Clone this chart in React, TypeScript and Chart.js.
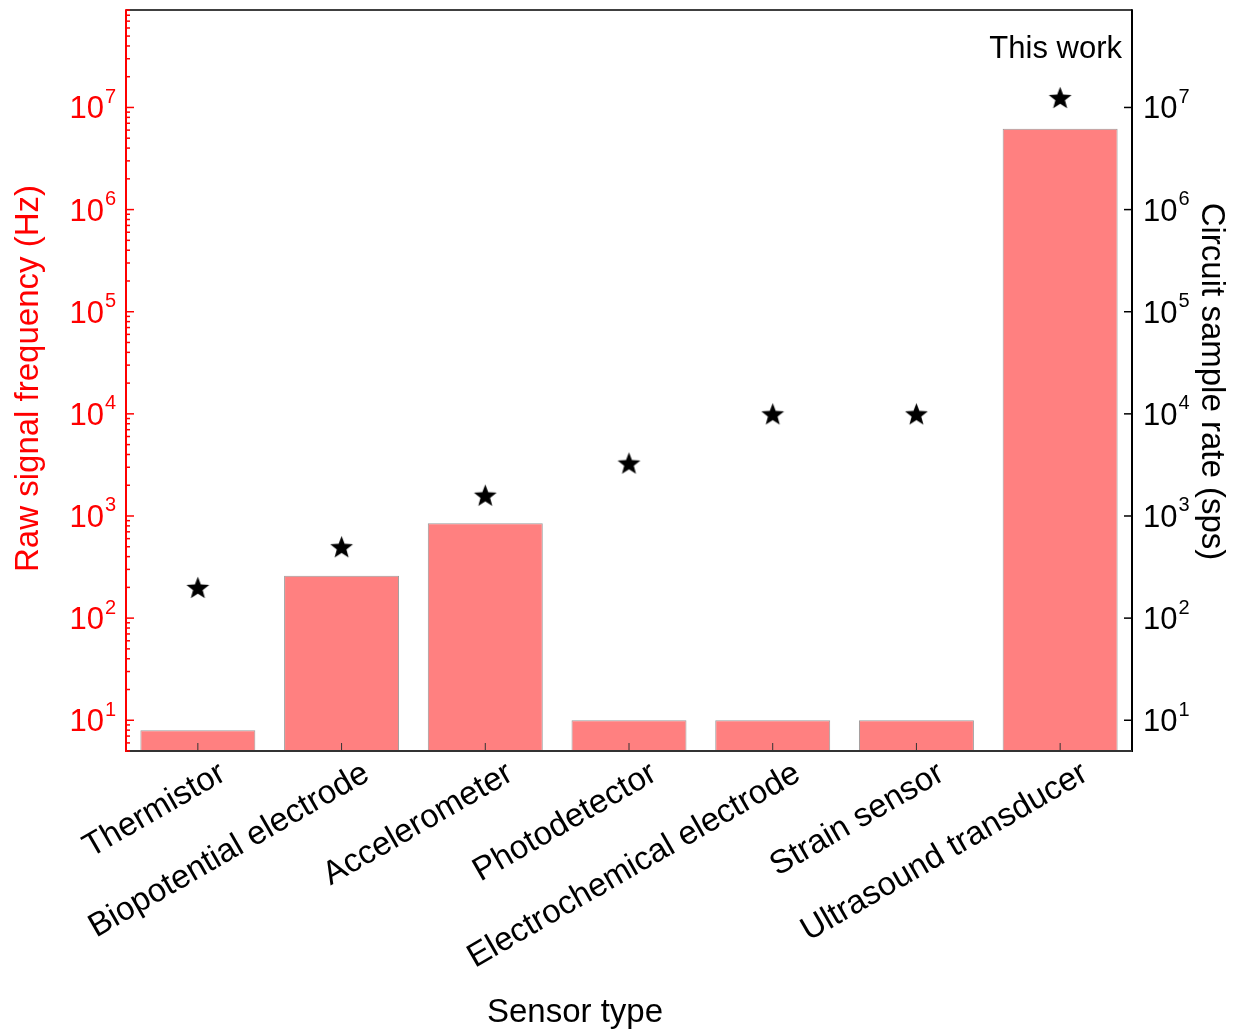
import React, { useEffect, useRef } from "react";
import { Chart, registerables } from "chart.js";

Chart.register(...registerables);

// ---- data ----
const categories = [
  "Thermistor",
  "Biopotential electrode",
  "Accelerometer",
  "Photodetector",
  "Electrochemical electrode",
  "Strain sensor",
  "Ultrasound transducer",
];
const rawSignalFrequency = [8, 260, 850, 10, 10, 10, 6.2e6];
const circuitSampleRate = [200, 500, 1600, 3300, 10000, 10000, 1.25e7];
const axisMin = 5;
const axisMax = 9e7;
const majorExponents = [1, 2, 3, 4, 5, 6, 7];
const xTitle = "Sensor type";
const leftTitle = "Raw signal frequency (Hz)";
const rightTitle = "Circuit sample rate (sps)";
const annotation = "This work";

const FONT = '"Liberation Sans", Arial, Helvetica, sans-serif';
const W = 1239;
const H = 1031;
const PLOT = { left: 126, right: 1132, top: 10, bottom: 751 };

function makeStar(size: number) {
  const c = document.createElement("canvas");
  c.width = size;
  c.height = size;
  const ctx = c.getContext("2d")!;
  const R = size / 2 - 0.5;
  const r = R * 0.42;
  const cx = size / 2;
  const cy = size / 2 + 0.0955 * R;
  ctx.beginPath();
  for (let i = 0; i < 10; i++) {
    const ang = -Math.PI / 2 + (i * Math.PI) / 5;
    const rad = i % 2 === 0 ? R : r;
    ctx.lineTo(cx + rad * Math.cos(ang), cy + rad * Math.sin(ang));
  }
  ctx.closePath();
  ctx.fillStyle = "#000";
  ctx.fill();
  return c;
}

const decorPlugin = {
  id: "decor",
  afterDraw(chart: any) {
    const { ctx, chartArea: a, scales } = chart;
    const y = scales.y;
    const y2 = scales.y2;
    const x = scales.x;
    const line = (x1: number, y1: number, x2: number, y2_: number) => {
      ctx.beginPath();
      ctx.moveTo(x1, y1);
      ctx.lineTo(x2, y2_);
      ctx.stroke();
    };
    ctx.save();
    ctx.lineCap = "butt";

    // frame
    ctx.strokeStyle = "#000";
    ctx.lineWidth = 1.5;
    line(a.left, a.top, a.right, a.top);
    ctx.lineWidth = 2;
    line(a.right, a.top - 0.75, a.right, a.bottom + 1);
    ctx.strokeStyle = "#333";
    line(a.left, a.bottom, a.right, a.bottom);
    ctx.strokeStyle = "#ff0000";
    line(a.left, a.top - 0.75, a.left, a.bottom + 1);

    // left ticks (major + minor), inward
    ctx.lineWidth = 1.5;
    for (let e = 0; e <= 8; e++) {
      for (let m = 1; m <= 9; m++) {
        const v = m * Math.pow(10, e);
        if (v < axisMin || v > axisMax) continue;
        const py = y.getPixelForValue(v);
        const len = m === 1 ? 8 : 4;
        line(a.left, py, a.left + len, py);
      }
    }
    // right ticks (major only), inward
    ctx.strokeStyle = "#000";
    majorExponents.forEach((e) => {
      const py = y2.getPixelForValue(Math.pow(10, e));
      line(a.right - 8, py, a.right, py);
    });
    // bottom ticks, inward
    ctx.strokeStyle = "#333";
    ctx.lineWidth = 1;
    categories.forEach((_, i) => {
      const px = x.getPixelForTick(i);
      line(px, a.bottom, px, a.bottom - 8);
    });

    // tick labels 10^n
    const drawPow = (e: number, py: number, side: "left" | "right", color: string) => {
      ctx.fillStyle = color;
      ctx.textBaseline = "alphabetic";
      ctx.textAlign = "left";
      ctx.font = `31px ${FONT}`;
      const wBase = ctx.measureText("10").width;
      ctx.font = `20px ${FONT}`;
      const sup = String(e);
      const wSup = ctx.measureText(sup).width;
      const total = wBase + 1 + wSup;
      const x0 = side === "left" ? a.left - 10 - total : a.right + 11;
      ctx.font = `31px ${FONT}`;
      ctx.fillText("10", x0, py + 11);
      ctx.font = `20px ${FONT}`;
      ctx.fillText(sup, x0 + wBase + 1, py - 4.5);
    };
    majorExponents.forEach((e) => {
      drawPow(e, y.getPixelForValue(Math.pow(10, e)), "left", "#ff0000");
      drawPow(e, y2.getPixelForValue(Math.pow(10, e)), "right", "#000");
    });

    // axis titles
    ctx.font = `33px ${FONT}`;
    ctx.textAlign = "center";
    ctx.textBaseline = "alphabetic";
    ctx.fillStyle = "#ff0000";
    ctx.save();
    ctx.translate(38, (a.top + a.bottom) / 2 - 2);
    ctx.rotate(-Math.PI / 2);
    ctx.fillText(leftTitle, 0, 0);
    ctx.restore();

    ctx.fillStyle = "#000";
    ctx.save();
    ctx.translate(1202, (a.top + a.bottom) / 2 + 1);
    ctx.rotate(Math.PI / 2);
    ctx.fillText(rightTitle, 0, 0);
    ctx.restore();

    ctx.fillText(xTitle, 575, 1022);

    // annotation
    ctx.font = `31px ${FONT}`;
    ctx.textAlign = "right";
    ctx.fillText(annotation, a.right - 10, 58);

    ctx.restore();
  },
};

export default function App() {
  const ref = useRef<HTMLCanvasElement>(null);
  useEffect(() => {
    document.body.style.margin = "0";
    const star = makeStar(25);
    const chart = new Chart(ref.current!, {
      type: "bar",
      data: {
        labels: categories,
        datasets: [
          {
            type: "bar",
            label: leftTitle,
            data: rawSignalFrequency,
            yAxisID: "y",
            backgroundColor: "#ff8080",
            borderColor: "rgba(130,130,130,0.8)",
            borderWidth: 1,
            barPercentage: 0.8,
            categoryPercentage: 1,
            order: 2,
          },
          {
            type: "line",
            label: rightTitle,
            data: circuitSampleRate,
            yAxisID: "y2",
            showLine: false,
            pointStyle: star as any,
            pointRadius: 12,
            order: 1,
          } as any,
        ],
      },
      options: {
        responsive: false,
        animation: false,
        layout: { autoPadding: false, padding: { top: PLOT.top, left: 0, right: 0, bottom: 0 } },
        plugins: {
          legend: { display: false },
          tooltip: { enabled: false },
        },
        scales: {
          x: {
            type: "category",
            grid: { display: false, drawTicks: false },
            border: { display: false },
            ticks: {
              color: "#000",
              font: { family: FONT, size: 33 },
              minRotation: 30,
              maxRotation: 30,
              autoSkip: false,
              padding: 3,
              labelOffset: 25,
            },
            afterFit: (s: any) => {
              s.height = H - PLOT.bottom;
            },
          },
          y: {
            type: "logarithmic",
            position: "left",
            min: axisMin,
            max: axisMax,
            grid: { display: false, drawTicks: false },
            border: { display: false },
            ticks: { display: false },
            afterFit: (s: any) => {
              s.width = PLOT.left;
            },
          },
          y2: {
            type: "logarithmic",
            position: "right",
            min: axisMin,
            max: axisMax,
            grid: { display: false, drawTicks: false },
            border: { display: false },
            ticks: { display: false },
            afterFit: (s: any) => {
              s.width = W - PLOT.right;
            },
          },
        },
      },
      plugins: [decorPlugin],
    });
    return () => chart.destroy();
  }, []);
  return (
    <div style={{ width: W, height: H }}>
      <canvas ref={ref} width={W} height={H} style={{ display: "block" }} />
    </div>
  );
}
